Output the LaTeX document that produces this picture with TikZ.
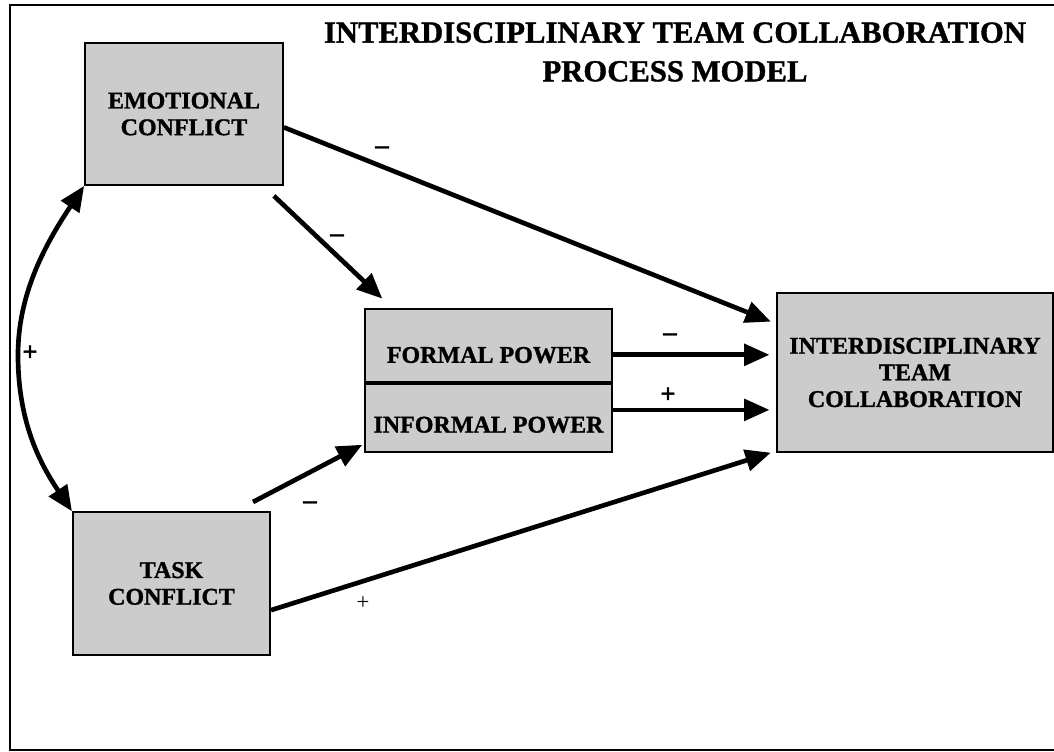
\documentclass[tikz,border=0pt]{standalone}
\usepackage{fontspec}
\setmainfont[BoldFeatures={FakeBold=1.2}]{Liberation Serif}
\usetikzlibrary{arrows.meta,positioning,calc}

\begin{document}
\begin{tikzpicture}[
        x=0.75pt, y=-0.75pt,
        >={Triangle[length=19pt,width=16pt]},
        box/.style={draw, line width=1.3pt, fill=black!20, align=center, inner sep=2pt,
          font=\bfseries\fontsize{18}{20}\selectfont},
        arrow/.style={->, line width=3.5pt},
        sign/.style={font=\bfseries\fontsize{20}{20}\selectfont, inner sep=0pt}
      ]
        \useasboundingbox (0,0) rectangle (1054,752);
        % frame
        \draw[line width=1.8pt] (1060,5) -- (10,5) -- (10,750) -- (1060,750);
        \node[font=\bfseries\fontsize{23}{29}\selectfont, align=center] (title) at (675,52)
          {INTERDISCIPLINARY TEAM COLLABORATION\\PROCESS MODEL};
        % boxes
        \node[box, minimum width=148.5pt, minimum height=106.5pt] (emo) at (184,114) {EMOTIONAL\\CONFLICT};
        \node[box, minimum width=148pt, minimum height=107pt] (task) at (171.5,583.5) {TASK\\CONFLICT};
        \node[box, minimum width=185pt, minimum height=55pt, text height=26pt, text depth=0pt] (formal) at (488.5,345.5) {FORMAL POWER};
        \node[box, minimum width=185pt, minimum height=51pt, text height=22pt, text depth=0pt, below=0pt of formal] (informal) {INFORMAL POWER};
        \node[box, minimum width=207pt, minimum height=119pt] (itc) at (915,372.5) {INTERDISCIPLINARY\\TEAM\\COLLABORATION};
        % connectors
        \coordinate (bulge) at (18,355);
        \draw[<->, line width=3.5pt]
          (emo.south west) .. controls +(-40,60) and +(0,-60) .. (bulge)
          .. controls +(0,70) and +(-30,-45) .. (task.north west);
        \draw[arrow] ([yshift=-10pt]emo.east) -- ([xshift=-4pt,yshift=-22pt]itc.north west);
        \draw[arrow] ([xshift=-7.5pt,yshift=-7.5pt]emo.south east) -- ([xshift=13.5pt,yshift=7pt]formal.north west);
        \draw[arrow] ([xshift=-13.5pt,yshift=7pt]task.north east) -- ([xshift=-1.5pt,yshift=6pt]informal.south west);
        \draw[arrow] ([yshift=-20pt]task.east) -- ([xshift=-4pt]itc.south west);
        \draw[arrow] ([yshift=-7pt]formal.east) -- ([xshift=-5pt,yshift=-7pt]formal.east -| itc.west);
        \draw[arrow] ([yshift=6pt]informal.east) -- ([xshift=-5pt,yshift=6pt]informal.east -| itc.west);
        % signs
        \node[sign] (p1) at (30,353) {+};
        \node[sign] (m1) at (382,150) {--};
        \node[sign] (m2) at (337,238) {--};
        \node[sign] (m3) at (310,505) {--};
        \node[sign, font=\fontsize{17}{17}\selectfont] (p2) at (363,603) {+};
        \node[sign] (m4) at (670,337) {--};
        \node[sign] (p3) at (668,395) {+};
      \end{tikzpicture}
\end{document}
